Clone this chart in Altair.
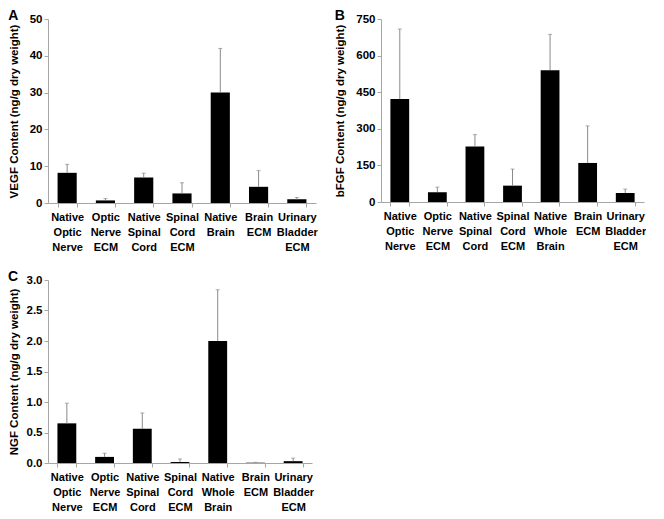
import altair as alt
import pandas as pd

FONT = "Liberation Sans, Arial, Helvetica, sans-serif"

# Panel A (VEGF)
cats_a = ["Native\nOptic\nNerve", "Optic\nNerve\nECM", "Native\nSpinal\nCord", "Spinal\nCord\nECM",
          "Native\nBrain", "Brain\nECM", "Urinary\nBladder\nECM"]
vals_a = [8.2, 0.7, 6.9, 2.6, 30.0, 4.4, 1.0]
errs_a = [2.3, 0.5, 1.2, 2.9, 12.0, 4.4, 0.5]

# Panel B (bFGF)
cats_b = ["Native\nOptic\nNerve", "Optic\nNerve\nECM", "Native\nSpinal\nCord", "Spinal\nCord\nECM",
          "Native\nWhole\nBrain", "Brain\nECM", "Urinary\nBladder\nECM"]
vals_b = [422, 40, 227, 67, 540, 160, 37]
errs_b = [287, 21, 49, 68, 147, 152, 16]

# Panel C (NGF)
cats_c = cats_b
vals_c = [0.65, 0.10, 0.56, 0.016, 2.0, 0.005, 0.03]
errs_c = [0.33, 0.06, 0.26, 0.05, 0.84, 0.005, 0.05]


def panel(cats, vals, errs, ytitle, ticks, fmt, letter, w, h, tpad):
    df = pd.DataFrame({"cat": cats, "val": vals,
                       "top": [v + e for v, e in zip(vals, errs)]})
    xaxis = alt.Axis(labelAngle=0, labelExpr="split(datum.label, '\\n')",
                     labelFontSize=11, labelFontWeight="bold", labelColor="#000",
                     labelLineHeight=15, labelPadding=4, tickSize=4,
                     tickBand="extent", labelBaseline="top", labelOverlap=False)
    yaxis = alt.Axis(values=ticks, format=fmt, grid=False, tickSize=4,
                     labelOverlap=False, labelFontSize=11.5, labelFontWeight="bold",
                     labelColor="#000", labelPadding=2, titleFontSize=11.5,
                     titleFontWeight="bold", titleColor="#000", titlePadding=tpad)
    yscale = alt.Scale(domain=[ticks[0], ticks[-1]], nice=False)

    def X():
        return alt.X("cat:N", sort=None, title=None,
                     scale=alt.Scale(paddingInner=0.5, paddingOuter=0.25), axis=xaxis)

    def Y(field):
        return alt.Y(field, title=ytitle, scale=yscale, axis=yaxis)

    base = alt.Chart(df)
    bars = base.mark_bar(color="#000").encode(x=X(), y=Y("val:Q"))
    rule = base.mark_rule(color="#8a8a8a", strokeWidth=1).encode(
        x=X(), y=Y("val:Q"), y2="top:Q")
    cap = base.mark_tick(color="#8a8a8a", thickness=1, size=4, orient="horizontal").encode(
        x=X(), y=Y("top:Q"))
    return alt.layer(bars, rule, cap).properties(
        width=w, height=h,
        title=alt.TitleParams(letter, anchor="start", frame="bounds", fontSize=14,
                              fontWeight="bold", font=FONT, color="#000", offset=-10))


A = panel(cats_a, vals_a, errs_a, "VEGF Content (ng/g dry weight)",
          [0, 10, 20, 30, 40, 50], "d", "A", 268, 184, 10)
B = panel(cats_b, vals_b, errs_b, "bFGF Content (ng/g dry weight)",
          [0, 150, 300, 450, 600, 750], "d", "B", 263, 183, 10)
C = panel(cats_c, vals_c, errs_c, "NGF Content (ng/g dry weight)",
          [0, 0.5, 1.0, 1.5, 2.0, 2.5, 3.0], ".1f", "C", 264, 183, 7)

top = alt.hconcat(A, B, spacing=16)
chart = alt.vconcat(top, C, spacing=18).properties(
    padding={"top": 1, "left": 0, "right": 0, "bottom": 0}).configure_view(
    stroke=None).configure_axis(
    labelFont=FONT, titleFont=FONT, domainColor="#a6a6a6", tickColor="#a6a6a6",
    domainWidth=1, tickWidth=1)

chart.save("out.html", embed_options={"renderer": "svg", "actions": False})
